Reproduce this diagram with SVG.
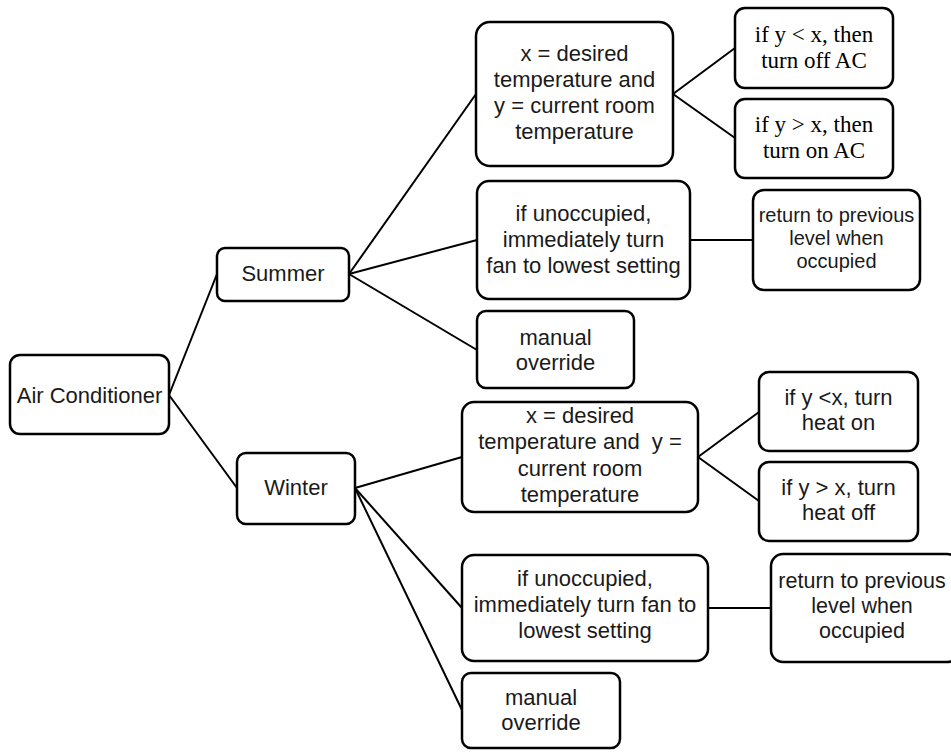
<svg xmlns="http://www.w3.org/2000/svg" width="951" height="753" viewBox="0 0 951 753">
<style>
.box{fill:#fff;stroke:#000;stroke-width:2.5}
.t{font-family:"Liberation Sans",Arial,sans-serif;font-size:22px;fill:#1a1a1a;text-anchor:middle;white-space:pre}
.s{font-size:20px}
.l{font-size:21.5px}
.tm{font-family:"Liberation Serif","Times New Roman",serif;font-size:23px;fill:#000;text-anchor:middle}
.c{stroke:#000;stroke-width:2;fill:none}
</style>
<rect width="951" height="753" fill="#fff"/>
<g id="connectors">
<line class="c" x1="169" y1="395" x2="217" y2="274"/>
<line class="c" x1="169" y1="395" x2="237" y2="488"/>
<line class="c" x1="349" y1="274" x2="476" y2="94"/>
<line class="c" x1="349" y1="274" x2="477" y2="240"/>
<line class="c" x1="349" y1="274" x2="477" y2="350"/>
<line class="c" x1="673" y1="94" x2="735" y2="48"/>
<line class="c" x1="673" y1="94" x2="735" y2="138"/>
<line class="c" x1="690" y1="240" x2="753" y2="240"/>
<line class="c" x1="355" y1="488" x2="462" y2="457"/>
<line class="c" x1="355" y1="488" x2="462" y2="608"/>
<line class="c" x1="355" y1="488" x2="462" y2="710"/>
<line class="c" x1="698" y1="457" x2="759" y2="412"/>
<line class="c" x1="698" y1="457" x2="759" y2="501"/>
<line class="c" x1="708" y1="608" x2="771" y2="608"/>
</g>
<g id="air-conditioner">
<rect class="box" x="10" y="355" width="159" height="79" rx="10"/>
<text class="t" x="89.5" y="403">Air Conditioner</text>
</g>
<g id="summer">
<rect class="box" x="217" y="248" width="132" height="53" rx="8"/>
<text class="t" x="283" y="281">Summer</text>
</g>
<g id="winter">
<rect class="box" x="237" y="453" width="118" height="71" rx="9"/>
<text class="t" x="296" y="495">Winter</text>
</g>
<g id="summer-temp">
<rect class="box" x="476" y="22" width="197" height="144" rx="14"/>
<text class="t" x="574.5" y="61">x = desired</text>
<text class="t" x="574.5" y="87">temperature and</text>
<text class="t" x="574.5" y="113">y = current room</text>
<text class="t" x="574.5" y="139">temperature</text>
</g>
<g id="summer-off">
<rect class="box" x="735" y="8" width="158" height="80" rx="10"/>
<text class="tm" x="814" y="42">if y &lt; x, then</text>
<text class="tm" x="814" y="68">turn off AC</text>
</g>
<g id="summer-on">
<rect class="box" x="735" y="99" width="158" height="79" rx="10"/>
<text class="tm" x="814" y="132">if y &gt; x, then</text>
<text class="tm" x="814" y="158">turn on AC</text>
</g>
<g id="summer-unoccupied">
<rect class="box" x="477" y="181" width="213" height="118" rx="12"/>
<text class="t" x="583.5" y="221">if unoccupied,</text>
<text class="t" x="583.5" y="247">immediately turn</text>
<text class="t" x="583.5" y="273">fan to lowest setting</text>
</g>
<g id="summer-return">
<rect class="box" x="753" y="190" width="167" height="100" rx="11"/>
<text class="t s" x="836.5" y="222">return to previous</text>
<text class="t s" x="836.5" y="245">level when</text>
<text class="t s" x="836.5" y="268">occupied</text>
</g>
<g id="summer-manual">
<rect class="box" x="477" y="311" width="157" height="77" rx="9"/>
<text class="t" x="555.5" y="345">manual</text>
<text class="t" x="555.5" y="370">override</text>
</g>
<g id="winter-temp">
<rect class="box" x="462" y="402" width="236" height="110" rx="12"/>
<text class="t" x="580" y="423">x = desired</text>
<text class="t" x="580" y="449">temperature and  y =</text>
<text class="t" x="580" y="476">current room</text>
<text class="t" x="580" y="502">temperature</text>
</g>
<g id="winter-on">
<rect class="box" x="759" y="372" width="159" height="79" rx="10"/>
<text class="t" x="838.5" y="405">if y &lt;x, turn</text>
<text class="t" x="838.5" y="430">heat on</text>
</g>
<g id="winter-off">
<rect class="box" x="759" y="462" width="159" height="79" rx="10"/>
<text class="t" x="838.5" y="495">if y &gt; x, turn</text>
<text class="t" x="838.5" y="520">heat off</text>
</g>
<g id="winter-unoccupied">
<rect class="box" x="462" y="555" width="246" height="106" rx="12"/>
<text class="t" x="585" y="586">if unoccupied,</text>
<text class="t" x="585" y="612">immediately turn fan to</text>
<text class="t" x="585" y="638">lowest setting</text>
</g>
<g id="winter-return">
<rect class="box" x="771" y="554" width="188" height="108" rx="12"/>
<text class="t l" x="862" y="588">return to previous</text>
<text class="t l" x="862" y="613">level when</text>
<text class="t l" x="862" y="638">occupied</text>
</g>
<g id="winter-manual">
<rect class="box" x="462" y="673" width="158" height="75" rx="9"/>
<text class="t" x="541" y="705">manual</text>
<text class="t" x="541" y="730">override</text>
</g>
</svg>
